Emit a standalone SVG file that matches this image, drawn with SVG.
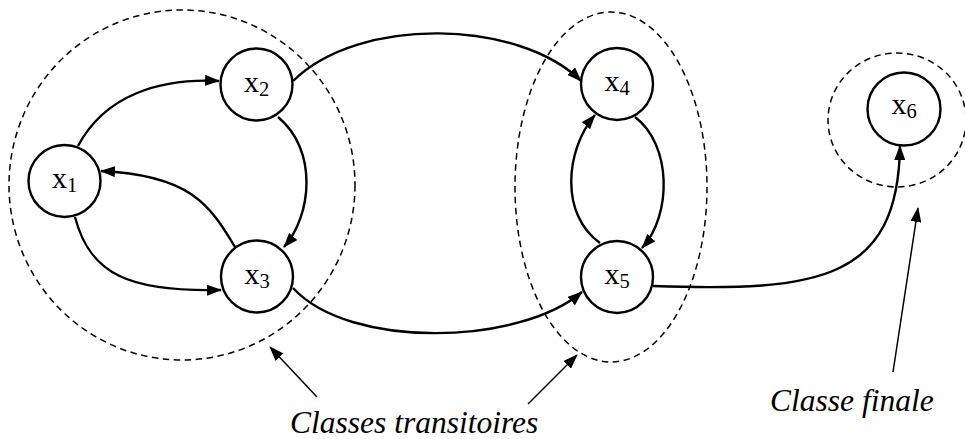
<svg xmlns="http://www.w3.org/2000/svg" width="965" height="439" viewBox="0 0 965 439">
<style>
.node circle{fill:#fff;stroke:#000;stroke-width:2.4}
.node text{font-family:"Liberation Serif","Times New Roman",serif;font-size:30px;fill:#000;text-anchor:middle}
.sub{font-size:20.5px}
.cls{fill:none;stroke:#000;stroke-width:1.5;stroke-dasharray:6.5 4.5}
.edge{fill:none;stroke:#000;stroke-width:2.4;marker-end:url(#ah)}
.ptr{fill:none;stroke:#000;stroke-width:1.5;marker-end:url(#ah2)}
.lbl{font-family:"Liberation Serif","Times New Roman",serif;font-style:italic;font-size:31.5px;fill:#000}
</style>
<defs>
<marker id="ah" viewBox="0 0 15 11" markerWidth="15" markerHeight="11" refX="14" refY="5.5" orient="auto" markerUnits="userSpaceOnUse">
<path d="M0,0 L15,5.5 L0,11 z" fill="#000"/>
</marker>
<marker id="ah2" viewBox="0 0 15 11" markerWidth="15" markerHeight="11" refX="14" refY="5.5" orient="auto" markerUnits="userSpaceOnUse">
<path d="M0,0 L15,5.5 L0,11 z" fill="#000"/>
</marker>
</defs>
<rect width="965" height="439" fill="#fff"/>
<g id="classes">
<ellipse class="cls" cx="182" cy="185" rx="173" ry="175"/>
<ellipse class="cls" cx="611" cy="187" rx="96" ry="175"/>
<ellipse class="cls" cx="897" cy="120" rx="69" ry="67"/>
</g>
<g id="connectors">
<path class="edge" d="M78,146 C105,95 160,78 219,81"/>
<path class="edge" d="M235,247 C210,205 190,175 101,171"/>
<path class="edge" d="M75,217 C90,275 130,292 221,290"/>
<path class="edge" d="M278,117 C318,150 312,215 284,247"/>
<path class="edge" d="M293,81 C360,15 520,20 581,81"/>
<path class="edge" d="M293,288 C350,350 520,345 582,292"/>
<path class="edge" d="M635,117 C672,145 672,215 642,248"/>
<path class="edge" d="M600,243 C560,215 565,150 595,115"/>
<path class="edge" d="M653,286 C820,292 898,280 900,146"/>
<path class="ptr" d="M317,397 L270,347"/>
<path class="ptr" d="M528,404 L577,355"/>
<path class="ptr" d="M893,372 L918,208"/>
</g>
<g id="x1" class="node"><circle cx="64.5" cy="181" r="36"/><text x="64.5" y="188">x<tspan class="sub" dy="4">1</tspan></text></g>
<g id="x2" class="node"><circle cx="256.5" cy="84.5" r="36"/><text x="256.5" y="92">x<tspan class="sub" dy="4">2</tspan></text></g>
<g id="x3" class="node"><circle cx="257" cy="276.5" r="36"/><text x="257" y="284">x<tspan class="sub" dy="4">3</tspan></text></g>
<g id="x4" class="node"><circle cx="617" cy="84" r="36"/><text x="617" y="91">x<tspan class="sub" dy="4">4</tspan></text></g>
<g id="x5" class="node"><circle cx="617" cy="277" r="36"/><text x="617" y="284">x<tspan class="sub" dy="4">5</tspan></text></g>
<g id="x6" class="node"><circle cx="904" cy="109" r="36.5"/><text x="904" y="114">x<tspan class="sub" dy="4">6</tspan></text></g>
<g id="labels">
<text class="lbl" x="290" y="433">Classes transitoires</text>
<text class="lbl" x="770" y="411">Classe finale</text>
</g>
</svg>
